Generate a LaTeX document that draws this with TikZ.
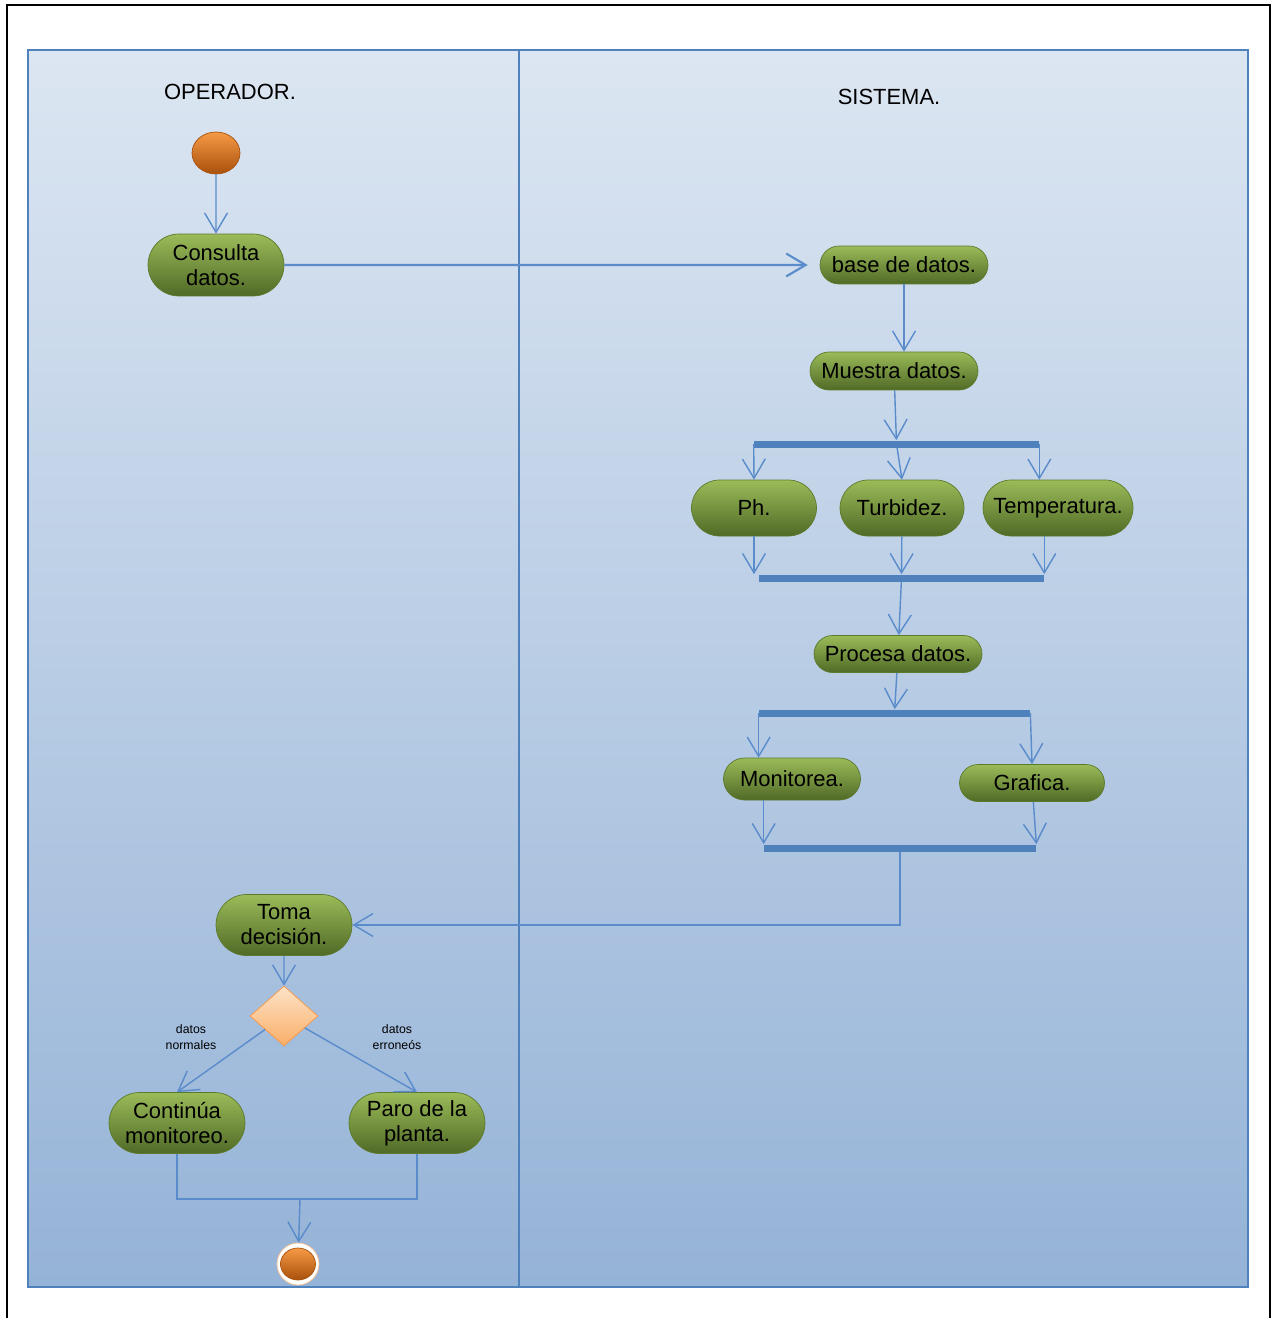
\documentclass[tikz,border=0pt]{standalone}
\usepackage{fontspec}
\setmainfont{Liberation Sans}
\usetikzlibrary{arrows.meta,shapes.geometric,shapes.misc}

\definecolor{azul}{HTML}{4F81BD}
\definecolor{azulflecha}{HTML}{5A8BCB}
\definecolor{fondoclaro}{HTML}{DCE6F2}
\definecolor{fondooscuro}{HTML}{95B3D7}
\definecolor{verdeclaro}{HTML}{9BBB59}
\definecolor{verdeoscuro}{HTML}{506A26}
\definecolor{bordeverde}{HTML}{5C7A2C}
\definecolor{naranjaclaro}{HTML}{F59A45}
\definecolor{naranjaoscuro}{HTML}{A9500C}
\definecolor{rombosup}{HTML}{FDE3C8}
\definecolor{romboinf}{HTML}{F9AE68}
\definecolor{bordenaranja}{HTML}{F79646}

\tikzset{
	actividad/.style={rounded rectangle, draw=bordeverde, top color=verdeclaro, bottom color=verdeoscuro, align=center, inner sep=0pt, font=\fontsize{12.5}{14.2}\selectfont},
	barra/.style={rectangle, fill=azul, inner sep=0pt, minimum height=0.14cm},
	flecha/.style={draw=azulflecha, line width=0.8pt, -{Straight Barb[length=11pt,width=13pt]}},
	linea/.style={draw=azulflecha, line width=0.8pt},
	inicio/.style={ellipse, draw=naranjaoscuro, top color=naranjaclaro, bottom color=naranjaoscuro, inner sep=0pt},
}

\begin{document}
\begin{tikzpicture}[x=0.02cm, y=-0.02cm]
			\useasboundingbox (0,0) rectangle (1271,1318);
			% marco
			\draw[black, line width=1.2pt] (7,1318) -- (7,5) -- (1270,5) -- (1270,1318);
			% carriles
			\shade[top color=fondoclaro, bottom color=fondooscuro] (28,50) rectangle (1248,1287);
			\draw[azul, line width=1.1pt] (28,50) rectangle (1248,1287);
			\draw[azul, line width=1.1pt] (519,50) -- (519,1287);
			\node	(operador) at (230,92) [font=\fontsize{12.5}{14}\selectfont] {OPERADOR.};
			\node	(sistema) at (889,97) [font=\fontsize{12.5}{14}\selectfont] {SISTEMA.};

			\node	(ini) at (216,153) [inicio, minimum width=0.96cm, minimum height=0.84cm] {};
			\node	(consulta) at (216,265) [actividad, minimum width=2.72cm, minimum height=1.24cm] {Consulta\\datos.};
			\node	(base) at (904,265) [actividad, minimum width=3.36cm, minimum height=0.76cm] {base de datos.};
			\node	(muestra) at (894,371) [actividad, minimum width=3.36cm, minimum height=0.76cm] {Muestra datos.};
			\node	(b1) at (896.5,444) [barra, minimum width=5.7cm] {};
			\node	(ph) at (754,508) [actividad, minimum width=2.5cm, minimum height=1.12cm] {Ph.};
			\node	(turb) at (902,508) [actividad, minimum width=2.48cm, minimum height=1.12cm] {Turbidez.};
			\node	(temp) at (1058,508) [actividad, minimum width=3cm, minimum height=1.12cm] {Temperatura.};
			\node	(b2) at (901.5,578) [barra, minimum width=5.7cm] {};
			\node	(procesa) at (898,654) [actividad, minimum width=3.36cm, minimum height=0.74cm] {Procesa datos.};
			\node	(b3) at (894.5,713) [barra, minimum width=5.42cm] {};
			\node	(mon) at (792,779) [actividad, minimum width=2.74cm, minimum height=0.84cm] {Monitorea.};
			\node	(graf) at (1032,783) [actividad, minimum width=2.9cm, minimum height=0.74cm] {Grafica.};
			\node	(b4) at (900,848) [barra, minimum width=5.44cm] {};
			\node	(toma) at (284,925) [actividad, minimum width=2.72cm, minimum height=1.22cm] {Toma\\decisión.};
			\node	(rombo) at (284,1016) [diamond, draw=bordenaranja, top color=rombosup, bottom color=romboinf, inner sep=0pt, minimum width=1.36cm, minimum height=1.2cm] {};
			\node	(normales) at (191,1037) [align=center, font=\fontsize{7}{9}\selectfont] {datos\\normales};
			\node	(erroneos) at (397,1037) [align=center, font=\fontsize{7}{9}\selectfont] {datos\\erroneós};
			\node	(cont) at (177,1123) [actividad, minimum width=2.72cm, minimum height=1.22cm] {Continúa\\monitoreo.};
			\node	(paro) at (417,1123) [actividad, minimum width=2.72cm, minimum height=1.22cm] {Paro de la\\planta.};
			\coordinate (union) at (300,1199);
			\node	(fin) at (298,1264) [circle, draw=bordenaranja!60, fill=white, minimum size=0.84cm] {};
			\node	(finc) at (fin) [inicio, minimum width=0.7cm, minimum height=0.64cm] {};

			\draw 
			(ini) edge[flecha] (consulta)
			(consulta) edge[flecha, line width=1.2pt, shorten >=0.24cm] (base)
			(base.south) edge[flecha] (muestra.north -| base.south)
			(muestra) edge[flecha] (b1)
			(b1.west) edge[flecha] (ph.north)
			(b1) edge[flecha] (turb.north)
			(b1.east) edge[flecha] (temp.north -| b1.east)
			(ph.south) edge[flecha] (ph.south |- b2.north)
			(turb) edge[flecha] (b2)
			(temp.south -| b2.east) edge[flecha] (b2.north east)
			(b2) edge[flecha] (procesa)
			(procesa) edge[flecha] (b3)
			(b3.west) edge[flecha] (mon.north -| b3.west)
			(b3.east) edge[flecha] (graf.north)
			(mon.south -| b4.west) edge[flecha] (b4.north west)
			(graf) edge[flecha] (b4.north east)
			(toma) edge[flecha] (rombo)
			(rombo) edge[flecha] (cont.north)
			(rombo) edge[flecha] (paro.north)
			(union) edge[flecha] (fin)
			;
			\draw[flecha] (b4.south) |- (toma.east);
			\draw[linea] (cont.south) |- (union) -| (paro.south);
		\end{tikzpicture}
\end{document}
